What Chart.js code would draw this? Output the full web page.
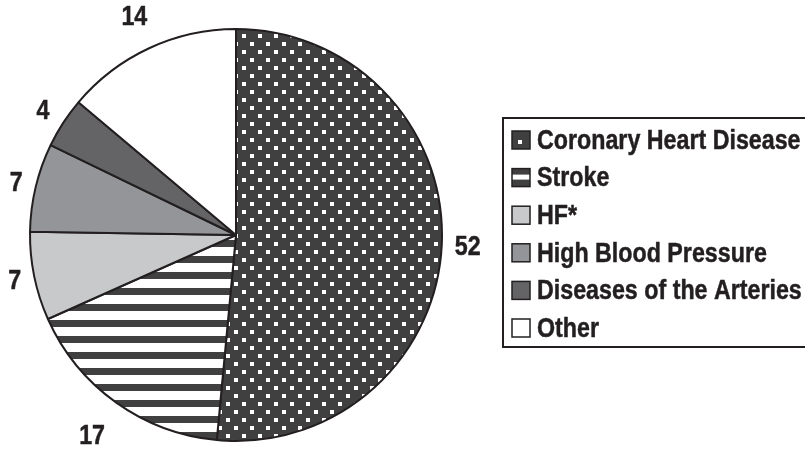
<!DOCTYPE html>
<html>
<head>
<meta charset="utf-8">
<script src="https://cdn.jsdelivr.net/npm/chart.js@4/dist/chart.umd.min.js"></script>
<style>
  html, body { margin: 0; padding: 0; background: #fff; }
  #wrap { width: 805px; height: 449px; position: relative; }
</style>
</head>
<body>
<div id="wrap"><canvas id="pie"></canvas></div>
<script>
// cardiovascular deaths by cause (percent)
const causes = ['Coronary Heart Disease', 'Stroke', 'HF*', 'High Blood Pressure', 'Diseases of the Arteries', 'Other'];
const shares = [52, 17, 7, 7, 4, 14];
const shareLabels = ['52', '17', '7', '7', '4', '14'];

const INK = '#231f20';
const DARK = '#404041';
const FONT = '"Liberation Sans Narrow", "Arial Narrow", "Liberation Sans", Arial, sans-serif';
const SQUEEZE = 0.83; // condensed look of the original type

const ctx = document.getElementById('pie').getContext('2d');

function dotPattern() {
  const c = document.createElement('canvas');
  c.width = 16; c.height = 16;
  const g = c.getContext('2d');
  g.fillStyle = DARK; g.fillRect(0, 0, 16, 16);
  g.fillStyle = '#fff';
  g.fillRect(2, 2, 4, 4);
  g.fillRect(10, 10, 4, 4);
  return ctx.createPattern(c, 'repeat');
}

function stripePattern() {
  const c = document.createElement('canvas');
  c.width = 4; c.height = 16;
  const g = c.getContext('2d');
  g.fillStyle = '#fff'; g.fillRect(0, 0, 4, 16);
  g.fillStyle = DARK; g.fillRect(0, 0, 4, 7);
  return ctx.createPattern(c, 'repeat');
}

const fills = [dotPattern(), stripePattern(), '#c8c9cb', '#939598', '#646466', '#ffffff'];
const legendKinds = ['dots', 'stripes', 'solid', 'solid', 'solid', 'solid'];
const legendSolid = [DARK, DARK, '#c8c9cb', '#939598', '#646466', '#ffffff'];

// heavy, condensed text
function squeezedText(ctx, text, x, y) {
  ctx.save();
  ctx.translate(x, y);
  ctx.scale(SQUEEZE, 1);
  ctx.strokeStyle = INK;
  ctx.lineWidth = 0.5;
  ctx.lineJoin = 'round';
  ctx.fillText(text, 0, 0);
  ctx.strokeText(text, 0, 0);
  ctx.restore();
}

// value labels around the rim (distance from centre per slice)
const valueLabels = {
  id: 'valueLabels',
  afterDatasetsDraw(chart, args, opts) {
    const { ctx } = chart;
    const arcs = chart.getDatasetMeta(0).data;
    ctx.save();
    ctx.fillStyle = INK;
    ctx.font = 'bold 28px ' + FONT;
    ctx.textAlign = 'center';
    ctx.textBaseline = 'middle';
    arcs.forEach((arc, i) => {
      const mid = (arc.startAngle + arc.endAngle) / 2;
      const r = opts.radius[i];
      squeezedText(ctx, shareLabels[i], arc.x + Math.cos(mid) * r, arc.y + Math.sin(mid) * r + 1);
    });
    ctx.restore();
  }
};

// boxed legend on the right
const boxLegend = {
  id: 'boxLegend',
  afterDraw(chart, args, opts) {
    const { ctx } = chart;
    ctx.save();
    ctx.strokeStyle = INK;
    ctx.lineWidth = 2;
    ctx.strokeRect(opts.left, opts.top, opts.width, opts.height);
    ctx.font = 'bold 28px ' + FONT;
    ctx.textBaseline = 'middle';
    ctx.textAlign = 'left';
    causes.forEach((name, i) => {
      const cy = opts.firstRow + i * opts.rowGap;
      const sx = opts.left + 9, sy = cy - 9, s = 18;
      ctx.fillStyle = legendSolid[i];
      ctx.fillRect(sx, sy, s, s);
      if (legendKinds[i] === 'dots') {
        ctx.fillStyle = '#fff';
        ctx.fillRect(sx + 6, sy + 9, 4, 4);
      } else if (legendKinds[i] === 'stripes') {
        ctx.fillStyle = '#fff';
        ctx.fillRect(sx, sy + 6, s, 5);
      }
      ctx.lineWidth = 1.5;
      ctx.strokeStyle = INK;
      ctx.strokeRect(sx, sy, s, s);
      ctx.fillStyle = INK;
      squeezedText(ctx, name, sx + 25, cy + 1);
    });
    ctx.restore();
  }
};

new Chart(ctx, {
  type: 'pie',
  data: {
    labels: causes,
    datasets: [{
      data: shares,
      backgroundColor: fills,
      borderColor: INK,
      borderWidth: 2,
      hoverBorderWidth: 2,
      borderAlign: 'center'
    }]
  },
  options: {
    responsive: true,
    maintainAspectRatio: false,
    animation: false,
    events: [],
    radius: 206,
    layout: { padding: { left: 20, right: 353, top: 21, bottom: 0 } },
    plugins: {
      legend: { display: false },
      tooltip: { enabled: false },
      valueLabels: { radius: [232, 247, 226, 226, 230, 241] },
      boxLegend: { left: 503, top: 118, width: 320, height: 229, firstRow: 140, rowGap: 37.6 }
    }
  },
  plugins: [valueLabels, boxLegend]
});
</script>
</body>
</html>
